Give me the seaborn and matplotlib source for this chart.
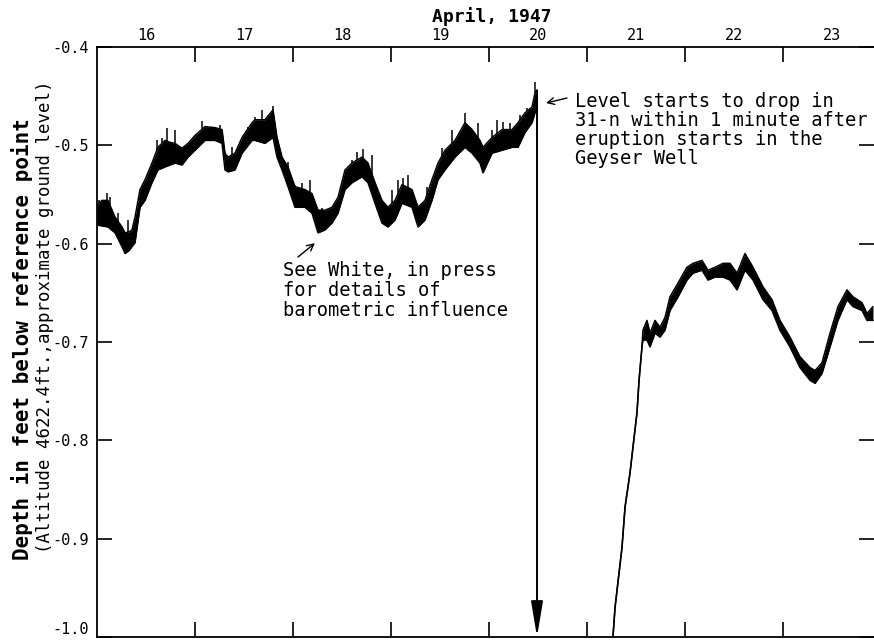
import numpy as np
import matplotlib
matplotlib.use("Agg")
import matplotlib.pyplot as plt
import seaborn as sns

# Water level in well 31-n, April 1947 (days as fractional April dates).
# Recorder trace is a band: upper and lower edge of the oscillating pen line.
days_before = [16.000, 16.051, 16.112, 16.184, 16.255, 16.286, 16.327, 16.357, 16.388,
               16.439, 16.490, 16.561, 16.622, 16.694, 16.745, 16.796, 16.867, 16.929,
               17.000, 17.102, 17.204, 17.276, 17.306, 17.337, 17.408, 17.480, 17.582,
               17.612, 17.714, 17.796, 17.837, 17.888, 17.949, 18.020, 18.122, 18.194,
               18.255, 18.327, 18.398, 18.459, 18.531, 18.602, 18.704, 18.765, 18.837,
               18.908, 18.969, 19.041, 19.112, 19.214, 19.276, 19.347, 19.418, 19.480,
               19.551, 19.653, 19.755, 19.827, 19.908, 19.939, 20.031, 20.133, 20.235,
               20.296, 20.367, 20.439, 20.469, 20.490]
top_before = [-0.561, -0.556, -0.556, -0.573, -0.583, -0.589, -0.588, -0.586, -0.573,
              -0.545, -0.535, -0.518, -0.502, -0.495, -0.497, -0.498, -0.503, -0.498,
              -0.490, -0.481, -0.482, -0.484, -0.508, -0.512, -0.508, -0.492, -0.477,
              -0.474, -0.474, -0.464, -0.492, -0.512, -0.522, -0.542, -0.545, -0.549,
              -0.566, -0.566, -0.563, -0.553, -0.525, -0.518, -0.512, -0.518, -0.538,
              -0.556, -0.563, -0.556, -0.540, -0.545, -0.563, -0.556, -0.535, -0.518,
              -0.505, -0.495, -0.477, -0.484, -0.495, -0.502, -0.492, -0.484, -0.484,
              -0.477, -0.467, -0.461, -0.447, -0.444]
bottom_before = [-0.581, -0.582, -0.583, -0.589, -0.603, -0.610, -0.607, -0.603, -0.599,
                 -0.563, -0.556, -0.538, -0.525, -0.522, -0.520, -0.518, -0.520, -0.512,
                 -0.505, -0.495, -0.495, -0.498, -0.525, -0.527, -0.525, -0.508, -0.495,
                 -0.495, -0.498, -0.492, -0.512, -0.525, -0.542, -0.563, -0.563, -0.569,
                 -0.589, -0.586, -0.579, -0.569, -0.545, -0.538, -0.532, -0.538, -0.559,
                 -0.579, -0.583, -0.576, -0.559, -0.563, -0.583, -0.576, -0.556, -0.535,
                 -0.525, -0.512, -0.502, -0.508, -0.518, -0.528, -0.508, -0.505, -0.502,
                 -0.502, -0.487, -0.477, -0.467, -0.464]

days_after = [21.265, 21.286, 21.357, 21.388, 21.439, 21.469, 21.510, 21.531, 21.561,
              21.571, 21.612, 21.643, 21.694, 21.745, 21.796, 21.847, 21.929, 22.020,
              22.082, 22.173, 22.235, 22.306, 22.388, 22.459, 22.531, 22.612, 22.694,
              22.796, 22.888, 22.969, 23.071, 23.173, 23.276, 23.327, 23.398, 23.480,
              23.561, 23.653, 23.714, 23.806, 23.857, 23.918]
top_after = [-1.000, -0.970, -0.909, -0.868, -0.833, -0.807, -0.772, -0.739, -0.705,
             -0.688, -0.678, -0.691, -0.678, -0.685, -0.675, -0.654, -0.640, -0.624,
             -0.620, -0.617, -0.627, -0.624, -0.620, -0.620, -0.630, -0.610, -0.624,
             -0.644, -0.657, -0.678, -0.695, -0.715, -0.726, -0.729, -0.721, -0.691,
             -0.664, -0.647, -0.654, -0.660, -0.671, -0.664]
bottom_after = [-1.000, -0.970, -0.909, -0.868, -0.833, -0.807, -0.772, -0.739, -0.705,
                -0.698, -0.698, -0.705, -0.691, -0.695, -0.688, -0.668, -0.654, -0.637,
                -0.630, -0.627, -0.637, -0.634, -0.634, -0.637, -0.647, -0.627, -0.637,
                -0.657, -0.668, -0.688, -0.705, -0.726, -0.739, -0.742, -0.732, -0.705,
                -0.678, -0.657, -0.664, -0.668, -0.678, -0.678]

# Short upward pen spikes on the barometric part of the record
spike_days = [16.020, 16.102, 16.133, 16.214, 16.316, 16.612, 16.663, 16.714, 16.796,
              16.898, 17.071, 17.255, 17.378, 17.541, 17.612, 17.684, 17.745, 17.796,
              17.949, 18.020, 18.092, 18.173, 18.296, 18.378, 18.531, 18.602, 18.653,
              18.714, 18.806, 19.010, 19.071, 19.122, 19.173, 19.367, 19.520, 19.622,
              19.755, 19.888, 20.031, 20.082, 20.143, 20.214, 20.316, 20.388, 20.469]
spike_tops = [-0.556, -0.548, -0.553, -0.569, -0.576, -0.495, -0.493, -0.482, -0.484,
              -0.503, -0.475, -0.479, -0.502, -0.481, -0.471, -0.464, -0.469, -0.460,
              -0.517, -0.540, -0.538, -0.535, -0.564, -0.564, -0.525, -0.515, -0.507,
              -0.504, -0.510, -0.545, -0.535, -0.533, -0.530, -0.542, -0.503, -0.484,
              -0.467, -0.477, -0.484, -0.474, -0.476, -0.477, -0.469, -0.462, -0.436]

# Level drop when the Geyser Well erupted
drop_day = 20.49
drop_top = -0.444
drop_bottom = -1.0

day_labels = ["16", "17", "18", "19", "20", "21", "22", "23"]
ytick_values = [-0.4, -0.5, -0.6, -0.7, -0.8, -0.9, -1.0]
ytick_labels = ["-0.4", "-0.5", "-0.6", "-0.7", "-0.8", "-0.9", "-1.0"]

sns.set_theme(style="ticks")
plt.rcParams["font.family"] = ["DejaVu Sans Mono", "DejaVu Sans"]
plt.rcParams["axes.edgecolor"] = "black"
plt.rcParams["text.color"] = "black"
plt.rcParams["xtick.color"] = "black"
plt.rcParams["ytick.color"] = "black"

W, H = 874, 642
fig = plt.figure(figsize=(W / 100, H / 100), dpi=100)
fig.patch.set_facecolor("white")
ax = fig.add_axes([97 / W, 5 / H, 777 / W, 590 / H])
ax.set_facecolor("white")

# Recorder trace drawn as a filled band with its edges
for d, t, b in [(days_before, top_before, bottom_before),
                (days_after, top_after, bottom_after)]:
    ax.fill_between(d, t, b, color="black", lw=0)
    sns.lineplot(x=d, y=t, color="black", lw=1.1, estimator=None, ax=ax)
    sns.lineplot(x=d, y=b, color="black", lw=1.1, estimator=None, ax=ax)

spike_base = np.interp(spike_days, days_before, top_before)
ax.vlines(spike_days, spike_base, spike_tops, color="black", lw=1.1)

ax.annotate("", xy=(drop_day, drop_bottom), xytext=(drop_day, drop_top),
            arrowprops=dict(arrowstyle="-|>,head_length=1.8,head_width=0.3",
                            color="black", lw=1.4, shrinkA=0, shrinkB=0),
            annotation_clip=False)

ax.set_xlim(16, 16 + 777 / 98)
ax.set_ylim(-1.0, -0.4)

# Day boundaries as tick marks, day numbers centred in each day on top
ax.set_xticks(np.arange(17, 24))
ax.set_xticks(np.arange(16.5, 24.0, 1.0), minor=True)
ax.set_xticklabels(day_labels, minor=True)
ax.set_xticklabels([])
ax.tick_params(axis="x", which="major", top=True, bottom=True, direction="in",
               length=11, width=1.2, labeltop=False, labelbottom=False)
ax.tick_params(axis="x", which="minor", top=False, bottom=False, length=0,
               labeltop=True, labelbottom=False, labelsize=11, pad=3)

ax.set_yticks(ytick_values)
ax.set_yticklabels(ytick_labels)
ax.tick_params(axis="y", left=True, right=True, direction="in", length=11,
               width=1.2, labelsize=11, pad=6)
# keep the lowest label inside the figure
ax.get_yticklabels()[-1].set_verticalalignment("bottom")

for side in ["left", "top", "bottom"]:
    ax.spines[side].set_linewidth(1.3)
ax.spines["right"].set_visible(False)

fig.text(492 / W, 1 - 17 / H, "April, 1947", ha="center", va="center",
         fontsize=13, fontweight="bold")
fig.text(22 / W, 1 - 339 / H, "Depth in feet below reference point",
         rotation=90, ha="center", va="center", fontsize=15, fontweight="bold")
fig.text(45 / W, 1 - 317 / H, "(Altitude 4622.4ft.,approximate ground level)",
         rotation=90, ha="center", va="center", fontsize=12.5)

ax.text(20.878, -0.4458,
        "Level starts to drop in\n31-n within 1 minute after\n"
        "eruption starts in the\nGeyser Well",
        ha="left", va="top", fontsize=13.5, linespacing=1.0)
ax.annotate("", xy=(20.582, -0.4570), xytext=(20.796, -0.4519),
            arrowprops=dict(arrowstyle="->", color="black", lw=1.0,
                            shrinkA=0, shrinkB=0))

ax.text(17.898, -0.6177,
        "See White, in press\nfor details of\nbarometric influence",
        ha="left", va="top", fontsize=13.5, linespacing=1.05)
ax.annotate("", xy=(18.224, -0.5994), xytext=(18.051, -0.6136),
            arrowprops=dict(arrowstyle="->", color="black", lw=1.0,
                            shrinkA=0, shrinkB=0))

fig.savefig("out.png", dpi=100, facecolor="white")
